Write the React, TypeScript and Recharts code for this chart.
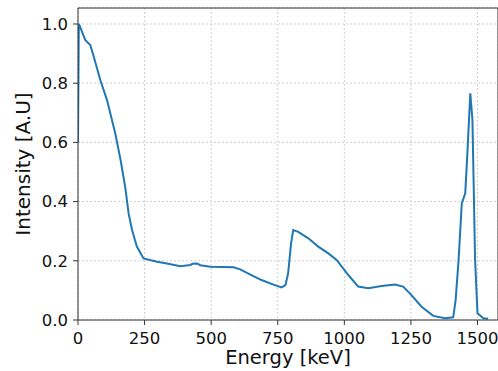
import { LineChart, Line, XAxis, YAxis, CartesianGrid, ReferenceLine } from 'recharts';

// spectrum (energy in keV, normalised intensity)
const energy = [
  0, 3, 8, 27, 46, 59, 84, 109, 140, 160, 178, 190, 203, 221, 246, 297, 334, 384, 422, 430,
  447, 459, 497, 584, 609, 640, 689, 739, 764, 779, 789, 800, 808, 827, 865, 902, 940, 971,
  1015, 1052, 1090, 1140, 1190, 1221, 1252, 1290, 1334, 1378, 1409, 1418, 1429, 1441, 1454,
  1462, 1473, 1481, 1491, 1500, 1522, 1540,
];
const intensity = [
  0.6, 1.0, 0.99, 0.946, 0.929, 0.89, 0.81, 0.743, 0.63, 0.54, 0.445, 0.36, 0.304, 0.248,
  0.208, 0.197, 0.191, 0.182, 0.186, 0.19, 0.191, 0.185, 0.18, 0.178, 0.171, 0.157, 0.135,
  0.118, 0.11, 0.118, 0.158, 0.259, 0.304, 0.298, 0.276, 0.248, 0.225, 0.203, 0.152, 0.113,
  0.107, 0.115, 0.12, 0.113, 0.084, 0.045, 0.014, 0.006, 0.009, 0.068, 0.203, 0.394, 0.428,
  0.563, 0.766, 0.676, 0.203, 0.023, 0.006, 0.004,
];
const xTicks = [0, 250, 500, 750, 1000, 1250, 1500];
const yTicks = [0, 0.2, 0.4, 0.6, 0.8, 1.0];

const X_MAX = 1577;
const Y_MAX = 1.054;

const data = energy.map((e, i) => ({ energy: e, intensity: intensity[i] }));

const font = '"DejaVu Sans", sans-serif';

export default function App() {
  return (
    <div style={{ position: 'absolute', left: 0, top: 0, background: '#fff' }}>
      <LineChart width={498} height={371} data={data} margin={{ top: 8, right: 0, bottom: 0, left: 0 }}>
        <CartesianGrid stroke="#cfcfcf" strokeDasharray="2 2" ticks={xTicks} />
        <XAxis
          dataKey="energy"
          type="number"
          domain={[0, X_MAX]}
          ticks={xTicks}
          height={51}
          allowDataOverflow
          stroke="#333"
          tickSize={5}
          tickMargin={7}
          tick={{ fill: '#111', fontSize: 16.5, fontFamily: font }}
          label={{ value: 'Energy [keV]', position: 'insideBottom', offset: 7, fill: '#111', fontSize: 19.5, fontFamily: font }}
        />
        <YAxis
          type="number"
          domain={[0, Y_MAX]}
          ticks={yTicks}
          width={78}
          allowDataOverflow
          stroke="#333"
          tickSize={5}
          tickMargin={5}
          tickFormatter={(v: number) => v.toFixed(1)}
          tick={{ fill: '#111', fontSize: 16.5, fontFamily: font }}
          label={{ value: 'Intensity [A.U]', angle: -90, position: 'insideLeft', offset: 23, fill: '#111', fontSize: 20, fontFamily: font, style: { textAnchor: 'middle' } }}
        />
        <ReferenceLine y={Y_MAX} stroke="#333" />
        <ReferenceLine x={X_MAX} stroke="#333" />
        <Line
          type="linear"
          dataKey="intensity"
          stroke="#1f77b4"
          strokeWidth={2}
          dot={false}
          isAnimationActive={false}
        />
      </LineChart>
    </div>
  );
}
